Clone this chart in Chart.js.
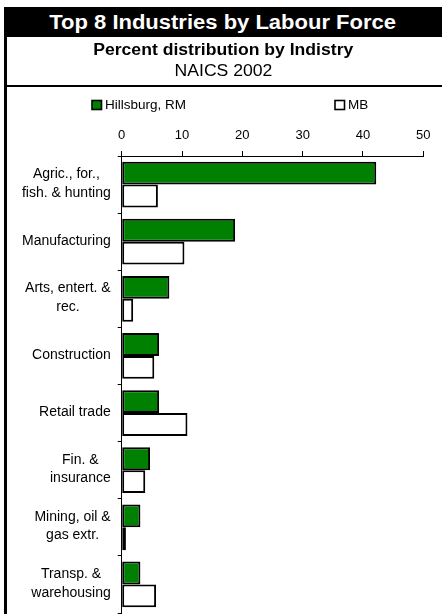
<!DOCTYPE html>
<html>
<head>
<meta charset="utf-8">
<script src="https://cdn.jsdelivr.net/npm/chart.js@4.4.1/dist/chart.umd.min.js"></script>
<style>
  body { margin: 0; background: #fff; font-family: "Liberation Sans", Arial, sans-serif; }
  #wrap { position: relative; width: 442px; height: 614px; overflow: hidden; }
  #chart { position: absolute; left: 0; top: 0; }
  .titlebar { position: absolute; left: 4px; top: 7px; width: 438px; height: 30px; background: #000;
    color: #fff; font-weight: bold; font-size: 20px; line-height: 30px; text-align: center; }
  .leftline { position: absolute; left: 4px; top: 7px; width: 3px; height: 607px; background: #000; }
  .hline { position: absolute; left: 4px; top: 85px; width: 438px; height: 2px; background: #000; }
  .sub, .naics { position: absolute; left: 4px; width: 438px; text-align: center; font-size: 16px; line-height: 20px; color: #000; }
  .sub { top: 40px; font-weight: bold; }
  .naics { top: 61px; }
  .stretch { display: inline-block; transform: scaleX(1.1); }
</style>
</head>
<body>
<div id="wrap">
  <canvas id="chart" width="442" height="614"></canvas>
  <div class="titlebar"><span class="stretch">Top 8 Industries by Labour Force</span></div>
  <div class="leftline"></div>
  <div class="hline"></div>
  <div class="sub"><span class="stretch">Percent distribution by Indistry</span></div>
  <div class="naics"><span class="stretch">NAICS 2002</span></div>
</div>
<script>
"use strict";

// Data
const categories = [
  ["Agric., for.,", "fish. & hunting"],
  "Manufacturing",
  ["Arts, entert. &", "rec."],
  "Construction",
  "Retail trade",
  ["Fin. &", "insurance"],
  ["Mining, oil &", "gas extr."],
  ["Transp. &", "warehousing"],
];
const seriesNames = ["Hillsburg, RM", "MB"];
const hillsburg = [42.2, 18.8, 7.9, 6.2, 6.2, 4.7, 3.1, 3.1];
const mb = [6.0, 10.4, 1.9, 5.4, 10.9, 3.9, 0.7, 5.7];
const xMin = 0;
const xMax = 50;
const xStep = 10;

const font = "'Liberation Sans', Arial, sans-serif";

// Draw the category labels: multi-line ones centred as a block, block right-aligned to the axis
const categoryLabels = {
  id: "categoryLabels",
  afterDraw(chart) {
    const ctx = chart.ctx;
    const yScale = chart.scales.y;
    const right = chart.chartArea.left - 11;
    ctx.save();
    ctx.font = "14px " + font;
    ctx.fillStyle = "#000";
    ctx.textAlign = "center";
    ctx.textBaseline = "middle";
    categories.forEach((label, i) => {
      const lines = Array.isArray(label) ? label : [label];
      const widest = Math.max(...lines.map((l) => ctx.measureText(l).width));
      const cx = right - widest / 2;
      const y = yScale.getPixelForValue(i) - 1;
      lines.forEach((line, j) => {
        ctx.fillText(line, cx, y + (j - (lines.length - 1) / 2) * 18.5);
      });
    });
    ctx.restore();
  },
};

// Legend with the two items spread apart like the original
const wideLegend = {
  id: "wideLegend",
  afterDraw(chart) {
    const ctx = chart.ctx;
    const spots = [92, 335];
    ctx.save();
    ctx.font = "13.5px " + font;
    ctx.textBaseline = "middle";
    ctx.textAlign = "left";
    chart.data.datasets.forEach((ds, i) => {
      const x = spots[i];
      ctx.fillStyle = ds.backgroundColor;
      ctx.fillRect(x, 100.5, 9.5, 9);
      ctx.lineWidth = 1.6;
      ctx.strokeStyle = "#000";
      ctx.strokeRect(x, 100.5, 9.5, 9);
      ctx.fillStyle = "#000";
      ctx.fillText(ds.label, x + 13, 105);
    });
    ctx.restore();
  },
};

const ctx = document.getElementById("chart").getContext("2d");
const chart = new Chart(ctx, {
  type: "bar",
  data: {
    labels: categories,
    datasets: [
      {
        label: seriesNames[0],
        data: hillsburg,
        backgroundColor: "#008000",
        borderColor: "#000",
        borderWidth: 2,
        borderSkipped: false,
      },
      {
        label: seriesNames[1],
        data: mb,
        backgroundColor: "#ffffff",
        borderColor: "#000",
        borderWidth: 2,
        borderSkipped: false,
      },
    ],
  },
  options: {
    indexAxis: "y",
    responsive: false,
    animation: false,
    categoryPercentage: 0.8,
    barPercentage: 1,
    layout: { padding: { left: 0, right: 18.7, top: 0, bottom: 1 } },
    scales: {
      x: {
        position: "top",
        min: xMin,
        max: xMax,
        ticks: { stepSize: xStep, color: "#000", font: { family: font, size: 13 }, padding: 8 },
        grid: { drawOnChartArea: false, drawTicks: true, tickLength: 5, color: "#000" },
        border: { display: true, color: "#000", width: 1 },
        afterFit(scale) {
          scale.height = 156;
        },
      },
      y: {
        ticks: { display: false },
        grid: { drawOnChartArea: false, drawTicks: true, tickLength: 4, color: "#000", offset: true },
        border: { display: true, color: "#000", width: 1 },
        afterFit(scale) {
          scale.width = 121.7;
        },
      },
    },
    plugins: {
      legend: { display: false },
      tooltip: { enabled: false },
    },
  },
  plugins: [categoryLabels, wideLegend],
});
</script>
</body>
</html>
